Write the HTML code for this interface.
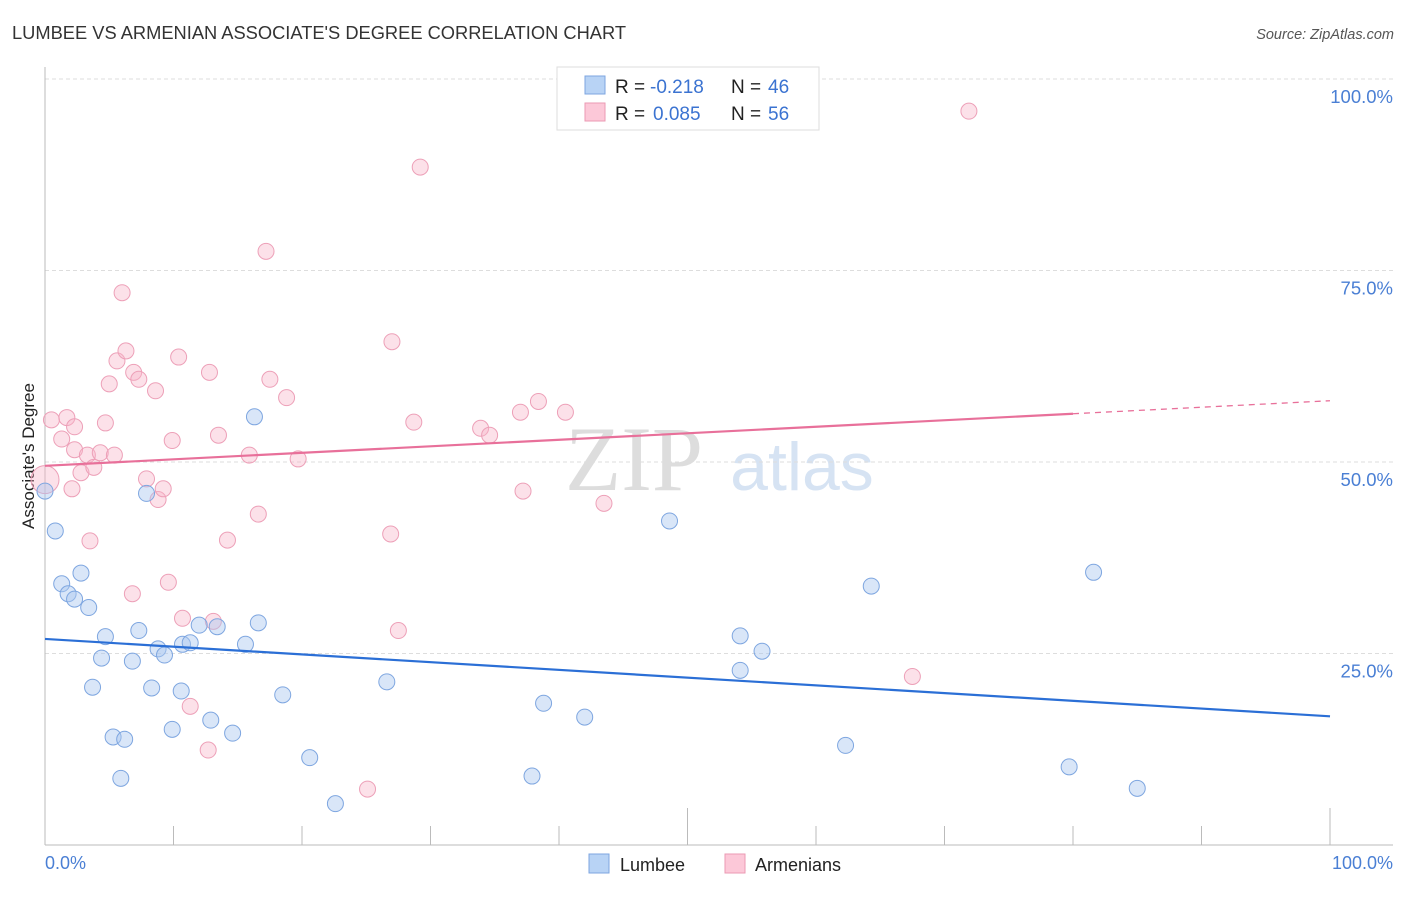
<!DOCTYPE html>
<html><head><meta charset="utf-8"><style>
body{margin:0;background:#fff;font-family:"Liberation Sans",sans-serif}
</style></head><body>
<svg width="1406" height="892" xmlns="http://www.w3.org/2000/svg" font-family="Liberation Sans, sans-serif">
<text x="12" y="39" font-size="18.3" fill="#333">LUMBEE VS ARMENIAN ASSOCIATE'S DEGREE CORRELATION CHART</text>
<text x="1394" y="39" font-size="14.5" fill="#555" font-style="italic" text-anchor="end">Source: ZipAtlas.com</text>
<g>
<text x="634" y="490" font-size="92" font-family="Liberation Serif, serif" fill="#ddd" text-anchor="middle">ZIP</text>
<text x="802" y="490" font-size="68" fill="#d6e3f3" text-anchor="middle">atlas</text>
</g>
<g id="grid"></g>
<line x1="45" y1="67" x2="45" y2="845" stroke="#bbb"/>
<line x1="45" y1="845" x2="1393" y2="845" stroke="#bbb"/>
<g id="ticks"></g>
<text x="45" y="869" font-size="18" fill="#4a7fd4">0.0%</text>
<text x="1393" y="869" font-size="18" fill="#4a7fd4" text-anchor="end">100.0%</text>
<text transform="translate(34,456) rotate(-90)" font-size="17" fill="#222" text-anchor="middle">Associate's Degree</text>
<g id="pts"></g>
<g id="lines"></g>
<g>
<rect x="557" y="67" width="262" height="63" fill="#fff" stroke="#ddd"/>
<rect x="585" y="76" width="20" height="18" fill="#b8d3f5" stroke="#7ea6e0"/>
<rect x="585" y="103" width="20" height="18" fill="#fcc8d8" stroke="#eb9ab3"/>
<text x="615" y="93" font-size="19" fill="#222">R =</text>
<text x="650" y="93" font-size="19" fill="#3b73d1">-0.218</text>
<text x="731" y="93" font-size="19" fill="#222">N =</text>
<text x="768" y="93" font-size="19" fill="#3b73d1">46</text>
<text x="615" y="120" font-size="19" fill="#222">R =</text>
<text x="653" y="120" font-size="19" fill="#3b73d1">0.085</text>
<text x="731" y="120" font-size="19" fill="#222">N =</text>
<text x="768" y="120" font-size="19" fill="#3b73d1">56</text>
</g>
<g>
<rect x="589" y="854" width="20" height="19" fill="#b8d3f5" stroke="#7ea6e0"/>
<text x="620" y="871" font-size="18" fill="#222">Lumbee</text>
<rect x="725" y="854" width="20" height="19" fill="#fcc8d8" stroke="#eb9ab3"/>
<text x="755" y="871" font-size="18" fill="#222">Armenians</text>
</g>
</svg>
<script>
const yTicks=[25,50,75,100];
const yTickLabels=["25.0%","50.0%","75.0%","100.0%"];
const xTicks=[0,10,20,30,40,50,60,70,80,90,100];
const lumbeeX=[0,0.8,1.3,1.8,2.3,2.8,3.4,3.7,4.4,4.7,5.3,5.9,6.2,6.8,7.3,7.9,8.3,8.8,9.3,9.9,10.6,10.7,11.3,12,12.9,13.4,14.6,15.6,16.3,16.6,18.5,20.6,22.6,26.6,37.9,38.8,42,48.6,54.1,54.1,55.8,62.3,64.3,79.7,81.6,85];
const lumbeeY=[46.2,41,34.1,32.8,32.1,35.5,31,20.6,24.4,27.2,14.1,8.7,13.8,24,28,45.9,20.5,25.6,24.8,15.1,20.1,26.2,26.4,28.7,16.3,28.5,14.6,26.2,55.9,29,19.6,11.4,5.4,21.3,9,18.5,16.7,42.3,27.3,22.8,25.3,13,33.8,10.2,35.6,7.4];
const armX=[0,0.5,1.3,1.7,2.1,2.3,2.8,3.3,3.5,3.8,4.3,4.7,5,5.4,5.6,6,6.3,6.8,6.9,7.3,7.9,8.6,8.8,9.2,9.6,9.9,10.4,10.7,11.3,12.7,12.8,13.1,13.5,14.2,15.9,16.6,17.2,17.5,18.8,19.7,25.1,26.9,27,27.5,28.7,29.2,33.9,34.6,37,37.2,38.4,40.5,43.5,67.5,71.9,2.3];
const armY=[47.7,55.5,53,55.8,46.5,51.6,48.6,50.9,39.7,49.3,51.2,55.1,60.2,50.9,63.2,72.1,64.5,32.8,61.7,60.8,47.8,59.3,45.1,46.5,34.3,52.8,63.7,29.6,18.1,12.4,61.7,29.2,53.5,39.8,50.9,43.2,77.5,60.8,58.4,50.4,7.3,40.6,65.7,28,55.2,88.5,54.4,53.5,56.5,46.2,57.9,56.5,44.6,22,95.8,54.6];
const lumbeeTrend=[26.9,16.8];
const armTrend=[49.5,56.3,58];
const NS="http://www.w3.org/2000/svg";
const X=v=>45+v*12.85, Y=v=>845-v*7.66;
function mk(t,a,p){const e=document.createElementNS(NS,t);for(const k in a)e.setAttribute(k,a[k]);p.appendChild(e);return e;}
const grid=document.getElementById('grid');
yTicks.forEach((t,i)=>{
 const l=mk('line',{x1:45,x2:1393,y1:Y(t),y2:Y(t),stroke:'#ddd','stroke-dasharray':'4,3'},grid);
 
 
 const tx=mk('text',{x:1393,y:Y(t)+24,'font-size':18.5,fill:'#4a7fd4','text-anchor':'end'},grid);
 tx.textContent=yTickLabels[i];
 
 
});
const tk=document.getElementById('ticks');
xTicks.forEach(t=>{
 const l=mk('line',{x1:X(t),x2:X(t),y1:(t%50==0&&t>0)?808:826,y2:845,stroke:'#bbb'},tk);
 
 
});
const pts=document.getElementById('pts');
armX.forEach((v,i)=>{
 const c=mk('circle',{cx:X(v),cy:Y(armY[i]),r:i==0?14:8,fill:'rgba(248,180,200,0.4)',stroke:'#eda0b8','stroke-width':1},pts);
 
 
});
lumbeeX.forEach((v,i)=>{
 const c=mk('circle',{cx:X(v),cy:Y(lumbeeY[i]),r:8,fill:'rgba(170,200,240,0.45)',stroke:'#7ea6e0','stroke-width':1},pts);
 
 
});
const ln=document.getElementById('lines');
let a=mk('line',{x1:X(0),y1:Y(lumbeeTrend[0]),x2:X(100),y2:Y(lumbeeTrend[1]),stroke:'#2b6fd6','stroke-width':2.2},ln);


let b=mk('line',{x1:X(0),y1:Y(armTrend[0]),x2:X(80),y2:Y(armTrend[1]),stroke:'#e8709a','stroke-width':2.2},ln);


let c=mk('line',{x1:X(80),y1:Y(armTrend[1]),x2:X(100),y2:Y(armTrend[2]),stroke:'#e8709a','stroke-width':1.3,'stroke-dasharray':'6,5'},ln);


</script>
</body></html>
